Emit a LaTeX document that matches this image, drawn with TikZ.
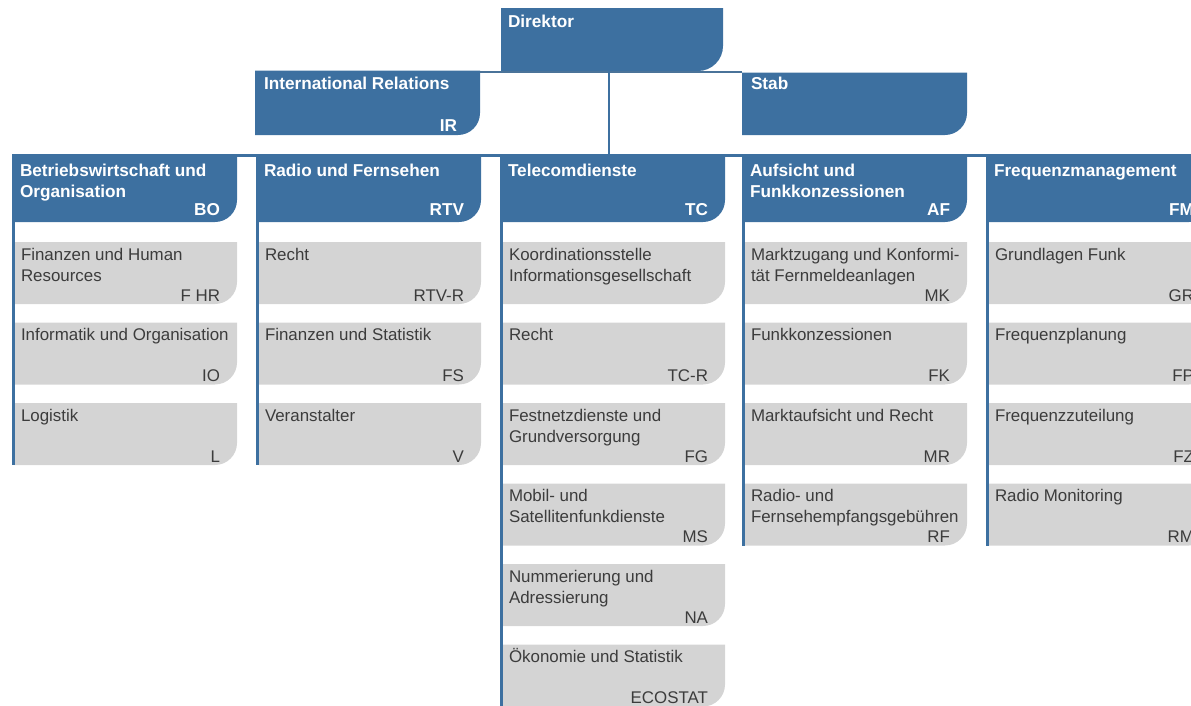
\documentclass[tikz,border=0pt]{standalone}
\usepackage{fontspec}
\setmainfont{Liberation Sans}
\definecolor{orgblue}{RGB}{61,112,160}
\definecolor{orggray}{RGB}{212,212,212}
\definecolor{orgtext}{RGB}{60,60,60}
\tikzset{
  frame/.style={inner sep=0pt, outer sep=0pt, anchor=north west, draw=none},
  headtxt/.style={text=white, font=\fontsize{17.2}{20.5}\selectfont\bfseries, inner sep=0pt, outer sep=0pt},
  graytxt/.style={text=orgtext, font=\fontsize{16.9}{21}\selectfont, inner sep=0pt, outer sep=0pt},
  conn/.style={draw=orgblue, line width=2.5pt},
  thinconn/.style={draw=orgblue!80!gray, line width=1.5pt}
}
\newcommand{\firstbase}[1]{\parbox[t]{230pt}{#1}}
\newcommand{\shapefill}[3]{%
  \fill[#2] (#1.north west) -- (#1.north east) -- ([yshift=#3]#1.south east)
    arc[start angle=0,end angle=-90,radius=#3] -- (#1.south west) -- cycle;}
\newcommand{\grayunit}[5]{%
  \node[frame, minimum width=222.5pt, minimum height=62pt] (#1) at (#2,-#3) {};
  \shapefill{#1}{orggray}{22pt}
  \node[graytxt, anchor=base west] (#1-t) at ([shift={(6.5pt,-18pt)}]#1.north west) {\firstbase{#4}};
  \if\relax\detokenize{#5}\relax\else
  \node[graytxt, anchor=base east] (#1-c) at ([shift={(-17pt,3pt)}]#1.south east) {#5};
  \fi}
\newcommand{\headunit}[4]{%
  \node[frame, minimum width=225pt, minimum height=67pt] (#1) at (#2,-155) {};
  \shapefill{#1}{orgblue}{22pt}
  \node[headtxt, anchor=base west] (#1-t) at ([shift={(8pt,-21.5pt)}]#1.north west) {\firstbase{#3}};
  \node[headtxt, anchor=base east] (#1-c) at ([shift={(-17pt,6.5pt)}]#1.south east) {#4};}
\begin{document}
\begin{tikzpicture}[x=1pt,y=1pt]
\path[use as bounding box] (0,0) rectangle (1191,-705);
\clip (0,0) rectangle (1191,-705);

% top level
\node[frame, minimum width=222pt, minimum height=63pt] (dir) at (501,-8) {};
\shapefill{dir}{orgblue}{25pt}
\node[headtxt, anchor=base west] (dir-t) at ([shift={(7pt,-19pt)}]dir.north west) {Direktor};

\node[frame, minimum width=225pt, minimum height=64.5pt] (ir) at (255,-70.5) {};
\shapefill{ir}{orgblue}{22pt}
\node[headtxt, anchor=base west] (ir-t) at ([shift={(9pt,-18.5pt)}]ir.north west) {International Relations};
\node[headtxt, anchor=base east] (ir-c) at ([shift={(-23pt,3.5pt)}]ir.south east) {IR};

\node[frame, minimum width=225pt, minimum height=62.5pt] (stab) at (742,-72.5) {};
\shapefill{stab}{orgblue}{22pt}
\node[headtxt, anchor=base west] (stab-t) at ([shift={(9pt,-16.5pt)}]stab.north west) {Stab};

% connectors of the top level
\coordinate (hub) at (608.5,-155);
\draw[thinconn] ([yshift=-1.5pt]ir.north east) -- ([yshift=0.5pt]stab.north west);
\draw[conn, line width=2pt] (dir.south -| hub) -- (hub);

% department headers
\headunit{bo}{12}{Betriebswirtschaft und\\Organisation}{BO}
\headunit{rtv}{256}{Radio und Fernsehen}{RTV}
\headunit{tc}{500}{Telecomdienste}{TC}
\headunit{af}{742}{Aufsicht und\\Funkkonzessionen}{AF}
\headunit{fm}{986}{Frequenzmanagement}{FM}
\draw[conn, line width=3pt] (bo.north west) -- (fm.north east);

% BO
\grayunit{bo1}{14.5}{242}{Finanzen und Human\\Resources}{F HR}
\grayunit{bo2}{14.5}{322.5}{Informatik und Organisation}{IO}
\grayunit{bo3}{14.5}{403}{Logistik}{L}
% RTV
\grayunit{rtv1}{258.5}{242}{Recht}{RTV-R}
\grayunit{rtv2}{258.5}{322.5}{Finanzen und Statistik}{FS}
\grayunit{rtv3}{258.5}{403}{Veranstalter}{V}
% TC
\grayunit{tc1}{502.5}{242}{Koordinationsstelle\\Informationsgesellschaft}{}
\grayunit{tc2}{502.5}{322.5}{Recht}{TC-R}
\grayunit{tc3}{502.5}{403}{Festnetzdienste und\\Grundversorgung}{FG}
\grayunit{tc4}{502.5}{483.5}{Mobil- und\\Satellitenfunkdienste}{MS}
\grayunit{tc5}{502.5}{564}{Nummerierung und\\Adressierung}{NA}
\grayunit{tc6}{502.5}{644.5}{Ökonomie und Statistik}{ECOSTAT}
% AF
\grayunit{af1}{744.5}{242}{Marktzugang und Konformi-\\tät Fernmeldeanlagen}{MK}
\grayunit{af2}{744.5}{322.5}{Funkkonzessionen}{FK}
\grayunit{af3}{744.5}{403}{Marktaufsicht und Recht}{MR}
\grayunit{af4}{744.5}{483.5}{Radio- und\\Fernsehempfangsgebühren}{RF}
% FM
\grayunit{fm1}{988.5}{242}{Grundlagen Funk}{GR}
\grayunit{fm2}{988.5}{322.5}{Frequenzplanung}{FP}
\grayunit{fm3}{988.5}{403}{Frequenzzuteilung}{FZ}
\grayunit{fm4}{988.5}{483.5}{Radio Monitoring}{RM}

% column lines
\coordinate (bo-end) at ([xshift=-1.25pt]bo3.south west);
\coordinate (rtv-end) at ([xshift=-1.25pt]rtv3.south west);
\coordinate (tc-end) at ([xshift=-1.25pt]tc6.south west);
\coordinate (af-end) at ([xshift=-1.25pt]af4.south west);
\coordinate (fm-end) at ([xshift=-1.25pt]fm4.south west);
\draw[conn] ([xshift=1.25pt]bo.south west) -- (bo-end);
\draw[conn] ([xshift=1.25pt]rtv.south west) -- (rtv-end);
\draw[conn] ([xshift=1.25pt]tc.south west) -- (tc-end);
\draw[conn] ([xshift=1.25pt]af.south west) -- (af-end);
\draw[conn] ([xshift=1.25pt]fm.south west) -- (fm-end);
\end{tikzpicture}
\end{document}
